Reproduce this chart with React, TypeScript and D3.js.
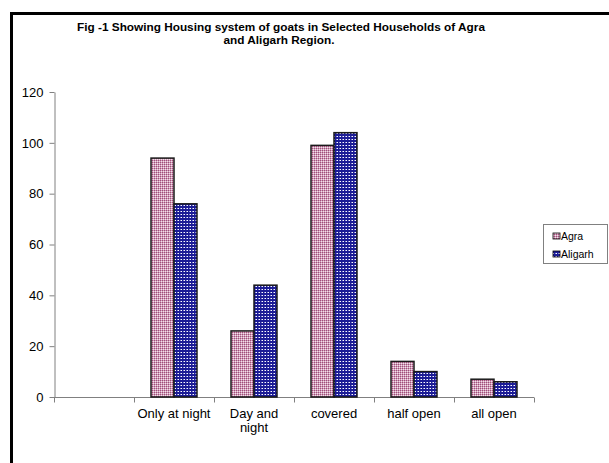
import { useEffect, useRef } from 'react';
import * as d3 from 'd3';

const categories = ['', 'Only at night', 'Day and night', 'covered', 'half open', 'all open'];
const categoryLines = [[''], ['Only at night'], ['Day and', 'night'], ['covered'], ['half open'], ['all open']];
const seriesNames = ['Agra', 'Aligarh'];
const agraValues = [null, 94, 26, 99, 14, 7];
const aligarhValues = [null, 76, 44, 104, 10, 6];
const yTicks = [0, 20, 40, 60, 80, 100, 120];

const W = 609;
const H = 463;
const FONT = 'Arial, "Liberation Sans", sans-serif';

export default function App() {
  const svgRef = useRef<SVGSVGElement | null>(null);

  useEffect(() => {
    if (!svgRef.current) return;
    const svg = d3.select(svgRef.current);
    svg.selectAll('*').remove();

    const defs = svg.append('defs');

    // Agra: muted pink checker
    const pa = defs.append('pattern')
      .attr('id', 'pat-agra')
      .attr('patternUnits', 'userSpaceOnUse')
      .attr('width', 2).attr('height', 2);
    pa.append('rect').attr('width', 2).attr('height', 2).attr('fill', '#cf9bb8');
    pa.append('rect').attr('width', 1).attr('height', 1).attr('fill', '#a0507a');
    pa.append('rect').attr('x', 1).attr('y', 1).attr('width', 1).attr('height', 1).attr('fill', '#f2e2ea');

    // Aligarh: navy with white dots
    const pb = defs.append('pattern')
      .attr('id', 'pat-aligarh')
      .attr('patternUnits', 'userSpaceOnUse')
      .attr('width', 3).attr('height', 3);
    pb.append('rect').attr('width', 3).attr('height', 3).attr('fill', '#1c1c96');
    pb.append('rect').attr('x', 1).attr('y', 1).attr('width', 1).attr('height', 1).attr('fill', '#ffffff');
    pb.append('rect').attr('x', 0).attr('y', 1).attr('width', 1).attr('height', 1).attr('fill', '#8c8cd0');

    const fills = ['url(#pat-agra)', 'url(#pat-aligarh)'];

    svg.append('rect')
      .attr('width', W).attr('height', H)
      .attr('fill', '#ffffff');

    // outer frame (right and bottom edges fall outside the picture)
    svg.append('rect')
      .attr('x', 11.5).attr('y', 13.5)
      .attr('width', W + 20).attr('height', H + 20)
      .attr('fill', 'none')
      .attr('stroke', '#000')
      .attr('stroke-width', 3);

    // title
    const title = svg.append('text')
      .attr('text-anchor', 'middle')
      .attr('font-family', FONT)
      .attr('font-weight', 'bold')
      .attr('font-size', 11.8)
      .attr('fill', '#000');
    title.append('tspan').attr('x', 281).attr('y', 31)
      .text('Fig -1 Showing Housing system of goats in  Selected Households of Agra');
    title.append('tspan').attr('x', 279).attr('y', 44)
      .text('and Aligarh Region.');

    const x = d3.scaleBand<string>()
      .domain(categories)
      .range([54, 534])
      .paddingInner(0)
      .paddingOuter(0);

    const xInner = d3.scaleBand<string>()
      .domain(seriesNames)
      .range([0, x.bandwidth()])
      .paddingInner(0)
      .paddingOuter(0.74);

    const y = d3.scaleLinear().domain([0, 120]).range([397, 92]);

    const axisColor = '#808080';

    // y axis
    const yAxis = svg.append('g')
      .attr('transform', 'translate(54.5,0)')
      .call(d3.axisLeft(y).tickValues(yTicks).tickSize(5).tickSizeOuter(0).tickFormat(d3.format('d')));
    yAxis.select('.domain').attr('stroke', axisColor);
    yAxis.selectAll('.tick line').attr('stroke', axisColor);
    yAxis.selectAll('.tick text')
      .attr('font-family', FONT)
      .attr('font-size', 13)
      .attr('fill', '#000')
      .attr('x', -11);

    // x axis
    const xAxis = svg.append('g')
      .attr('transform', 'translate(0,397.5)');
    xAxis.append('line')
      .attr('x1', 54).attr('x2', 534)
      .attr('stroke', axisColor);
    const edges = categories.map((c) => x(c) as number).concat([534]);
    xAxis.selectAll('line.tk')
      .data(edges)
      .join('line')
      .attr('class', 'tk')
      .attr('x1', (d) => Math.round(d) + 0.5)
      .attr('x2', (d) => Math.round(d) + 0.5)
      .attr('y1', 0).attr('y2', 5)
      .attr('stroke', axisColor);

    // category labels
    categories.forEach((c, i) => {
      const t = svg.append('text')
        .attr('text-anchor', 'middle')
        .attr('font-family', FONT)
        .attr('font-size', 13)
        .attr('fill', '#000');
      categoryLines[i].forEach((line, j) => {
        t.append('tspan')
          .attr('x', (x(c) as number) + x.bandwidth() / 2)
          .attr('y', 418 + j * 14)
          .text(line);
      });
    });

    // bars
    const series = [agraValues, aligarhValues];
    series.forEach((vals, si) => {
      svg.append('g')
        .selectAll('rect')
        .data(categories.map((c, i) => ({ c, v: vals[i] })).filter((d) => d.v != null))
        .join('rect')
        .attr('x', (d) => (x(d.c) as number) + (xInner(seriesNames[si]) as number))
        .attr('y', (d) => y(d.v as number))
        .attr('width', xInner.bandwidth())
        .attr('height', (d) => y(0) - y(d.v as number))
        .attr('fill', fills[si])
        .attr('stroke', '#1a1a1a')
        .attr('stroke-width', 1.5);
    });

    // legend
    const lg = svg.append('g');
    lg.append('rect')
      .attr('x', 543.5).attr('y', 224.5)
      .attr('width', 64).attr('height', 39)
      .attr('fill', '#fff')
      .attr('stroke', '#808080');
    seriesNames.forEach((name, i) => {
      lg.append('rect')
        .attr('x', 553).attr('y', 233 + i * 18)
        .attr('width', 7).attr('height', 6)
        .attr('fill', fills[i])
        .attr('stroke', '#000')
        .attr('stroke-width', 0.8);
      lg.append('text')
        .attr('x', 561).attr('y', 240 + i * 18)
        .attr('font-family', FONT)
        .attr('font-size', 10.5)
        .attr('fill', '#000')
        .text(name);
    });
  }, []);

  return (
    <svg
      ref={svgRef}
      width={W}
      height={H}
      style={{ position: 'absolute', left: 0, top: 0, display: 'block' }}
    />
  );
}
